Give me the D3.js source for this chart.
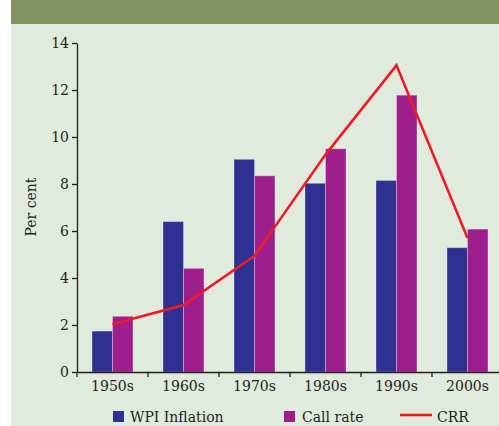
<!DOCTYPE html>
<html><head><meta charset="utf-8">
<script src="https://cdn.jsdelivr.net/npm/d3@7"></script>
<style>
html,body{margin:0;padding:0;background:#fff;overflow:hidden}
svg{display:block}
text{font-family:"DejaVu Serif",serif;fill:#231f20}
</style></head>
<body>
<script>
const categories = ["1950s","1960s","1970s","1980s","1990s","2000s"];
const wpiInflation = [1.74, 6.4, 9.05, 8.03, 8.15, 5.29];
const callRate = [2.37, 4.41, 8.35, 9.5, 11.78, 6.08];
const crr = [2.03, 2.85, 4.94, 9.25, 13.05, 5.7];
const yTicks = [0,2,4,6,8,10,12,14];
const seriesNames = ["WPI Inflation","Call rate","CRR"];
const colors = {wpi:"#2e3192", call:"#9e1f8c", crr:"#ed1c24"};

const W = 499, H = 426;
const svg = d3.select("body").append("svg").attr("width", W).attr("height", H);

// panel backgrounds
svg.append("rect").attr("x", 11).attr("y", 0).attr("width", W-11).attr("height", H).attr("fill", "#e0eadd");
svg.append("rect").attr("x", 11).attr("y", 0).attr("width", W-11).attr("height", 24).attr("fill", "#839060");

const x = d3.scaleBand().domain(categories).range([77, 503]).padding(0);
const xs = d3.scaleBand().domain(["wpi","call"]).range([0, x.bandwidth()]).paddingInner(0).paddingOuter(0.732);
const y = d3.scaleLinear().domain([0, 14]).range([372, 43]);

// bars
const groups = svg.append("g").selectAll("g").data(categories).join("g")
  .attr("transform", d => `translate(${x(d)},0)`);
groups.append("rect")
  .attr("x", xs("wpi")).attr("width", xs.bandwidth())
  .attr("y", (d,i) => y(wpiInflation[i])).attr("height", (d,i) => y(0) - y(wpiInflation[i]))
  .attr("fill", colors.wpi).attr("stroke", "#ffffff").attr("stroke-opacity", 0.3).attr("stroke-width", 1);
groups.append("rect")
  .attr("x", xs("call")).attr("width", xs.bandwidth())
  .attr("y", (d,i) => y(callRate[i])).attr("height", (d,i) => y(0) - y(callRate[i]))
  .attr("fill", colors.call).attr("stroke", "#ffffff").attr("stroke-opacity", 0.3).attr("stroke-width", 1);

// CRR line
const line = d3.line().x((d,i) => x(categories[i]) + x.bandwidth()/2).y(d => y(d));
svg.append("path").datum(crr).attr("d", line)
  .attr("fill", "none").attr("stroke", colors.crr).attr("stroke-width", 2.6).attr("stroke-linejoin", "miter");

// axes
const yAxis = d3.axisLeft(y).tickValues(yTicks).tickSize(5).tickPadding(3).tickSizeOuter(0);
const gy = svg.append("g").attr("transform", "translate(77,0)").call(yAxis);
gy.selectAll("text").attr("font-size", 14).attr("font-family", "DejaVu Serif").attr("fill", "#231f20");
gy.selectAll("line,path").attr("stroke", "#231f20").attr("stroke-width", 1.3);

const xAxis = d3.axisBottom(x).tickSize(0).tickPadding(9).tickSizeOuter(0);
const gx = svg.append("g").attr("transform", "translate(0,372)").call(xAxis);
gx.selectAll("text").attr("font-size", 14).attr("font-family", "DejaVu Serif").attr("fill", "#231f20");
gx.select("path").attr("stroke", "#231f20").attr("stroke-width", 1.3);
// boundary ticks
gx.selectAll("line.bt").data(categories).join("line").attr("class","bt")
  .attr("x1", d => x(d)).attr("x2", d => x(d)).attr("y1", 0).attr("y2", 5)
  .attr("stroke", "#231f20").attr("stroke-width", 1.3);

// y label
svg.append("text").attr("transform", "translate(36,207) rotate(-90)")
  .attr("text-anchor", "middle").attr("font-size", 14).text("Per cent");

// legend
const leg = svg.append("g");
leg.append("rect").attr("x", 113).attr("y", 411).attr("width", 11).attr("height", 11).attr("fill", colors.wpi);
leg.append("text").attr("x", 130).attr("y", 422).attr("font-size", 14).text(seriesNames[0]);
leg.append("rect").attr("x", 284).attr("y", 411).attr("width", 11).attr("height", 11).attr("fill", colors.call);
leg.append("text").attr("x", 302).attr("y", 422).attr("font-size", 14).text(seriesNames[1]);
leg.append("line").attr("x1", 400).attr("x2", 432).attr("y1", 415).attr("y2", 415).attr("stroke", colors.crr).attr("stroke-width", 2.6);
leg.append("text").attr("x", 437).attr("y", 422).attr("font-size", 14).text(seriesNames[2]);
</script>
</body></html>
